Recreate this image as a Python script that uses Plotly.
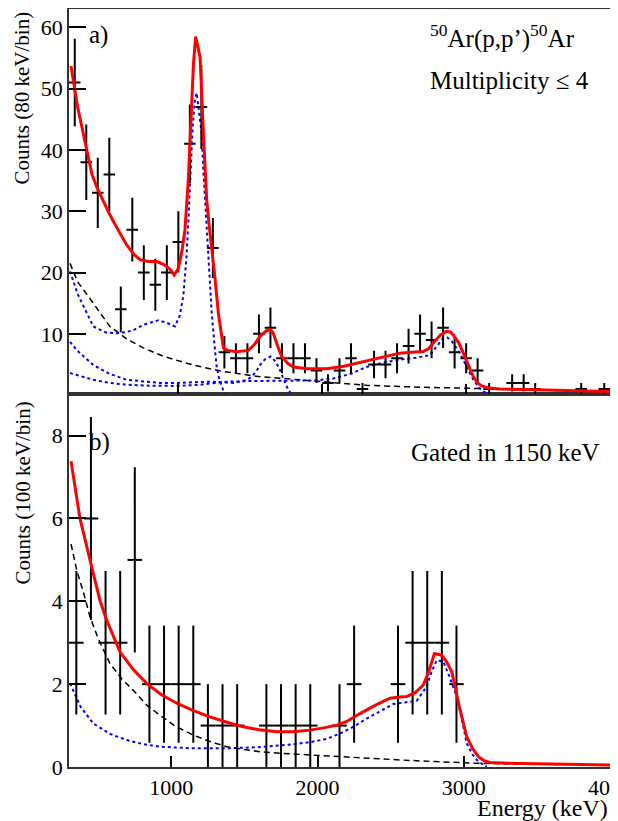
import numpy as np
import plotly.graph_objects as go

# ---------------- Panel a) data (80 keV/bin) ----------------
energy_a = [280, 360, 440, 520, 600, 680, 760, 840, 920, 1000, 1080, 1160, 1240, 1320,
            1400, 1480, 1560, 1640, 1720, 1800, 1880, 1960, 2040, 2120, 2200, 2280,
            2360, 2440, 2520, 2600, 2680, 2760, 2840, 2920, 3000, 3080, 3160, 3320,
            3400, 3480, 3800, 3960]
counts_a = [51, 38, 33, 36, 14, 27, 20, 18, 20, 25, 41, 47, 24, 7,
            6, 6, 10, 11, 6, 6, 6, 4, 2, 4, 6, 1,
            5, 5, 6, 8, 10, 9, 11, 7, 6, 4, 1, 2,
            2, 1, 1, 1]

fit_a_E = [254, 300, 358, 400, 432, 470, 522, 580, 641, 690, 733, 790, 849, 900, 940, 972,
           1000, 1025, 1046, 1069, 1087, 1105, 1120, 1140, 1151, 1174, 1197, 1215, 1232,
           1255, 1278, 1300, 1313, 1340, 1406, 1487, 1530, 1568, 1610, 1640, 1660, 1690,
           1718, 1760, 1799, 1900, 2031, 2150, 2264, 2378, 2460, 2540, 2620, 2702, 2740,
           2772, 2820, 2865, 2890, 2911, 2950, 2981, 3020, 3050, 3080, 3108, 3160, 3235,
           3400, 3600, 3800, 4000]
fit_a_v = [53.7, 47.0, 40.6, 36.0, 34.0, 32.0, 29.5, 27.0, 24.5, 23.0, 22.1, 21.8, 21.8, 21.3, 20.6, 19.6,
           20.7, 23.5, 27.0, 35.0, 46.0, 54.0, 58.5, 56.5, 55.2, 42.7, 31.9, 27.5, 24.2,
           19.0, 13.4, 9.5, 7.7, 7.3, 7.1, 7.3, 8.3, 9.6, 10.5, 10.7, 10.1, 8.0,
           6.3, 5.2, 4.6, 4.3, 4.3, 4.7, 5.3, 5.9, 6.4, 6.85, 7.0, 7.1, 7.6,
           8.5, 9.8, 10.4, 10.3, 9.8, 8.5, 6.85, 4.6, 3.0, 2.0, 1.5, 1.15, 1.0,
           0.9, 0.8, 0.7, 0.6]

bkg_a_E = [247, 300, 409, 524, 640, 756, 900, 1104, 1300, 1567, 1845, 2147, 2308, 2600,
           3003, 3300, 3600, 4000]
bkg_a_v = [21.5, 18.5, 15.0, 11.2, 9.2, 7.7, 6.3, 4.9, 3.9, 3.0, 2.5, 1.95, 1.6, 1.35,
           1.1, 0.95, 0.8, 0.55]

resp1150_E = [247, 300, 409, 500, 571, 640, 687, 760, 860, 920, 976, 1010, 1034, 1055, 1069,
              1081, 1100, 1115, 1127, 1140, 1162, 1173, 1185, 1197, 1215, 1232, 1250, 1266,
              1285, 1301, 1320, 1340]
resp1150_v = [20.2, 16.5, 11.2, 10.2, 10.1, 10.3, 10.6, 11.5, 12.2, 11.8, 11.2, 13.0, 16.1, 22.0, 28.0,
              35.0, 44.0, 48.0, 49.3, 47.0, 42.7, 37.0, 31.9, 27.0, 20.0, 13.4, 8.5, 4.7,
              2.5, 1.4, 0.3, 0.0]

resp1640_E = [247, 300, 409, 520, 641, 760, 871, 1000, 1100, 1220, 1300, 1382, 1450, 1498,
              1540, 1567, 1600, 1642, 1675, 1706, 1730, 1753, 1780]
resp1640_v = [8.7, 7.2, 4.9, 3.5, 2.5, 2.2, 2.0, 2.0, 2.1, 2.2, 2.1, 2.0, 2.3, 2.8,
              3.8, 4.9, 5.8, 6.3, 5.5, 4.1, 2.7, 1.4, 0.3]

resp2900_E = [247, 300, 409, 520, 641, 800, 988, 1150, 1336, 1500, 1729, 1845, 1950, 2077,
              2200, 2308, 2420, 2540, 2650, 2748, 2790, 2841, 2870, 2900, 2957, 3000, 3050,
              3090, 3120, 3150]
resp2900_v = [3.6, 3.2, 2.5, 2.0, 1.7, 1.55, 1.5, 1.7, 2.2, 2.3, 2.3, 2.3, 2.4, 2.7,
              3.5, 4.6, 5.3, 5.8, 6.1, 6.5, 7.8, 9.3, 9.4, 8.8, 6.85, 4.8, 2.5,
              1.2, 0.6, 0.2]

# ---------------- Panel b) data (100 keV/bin, gated) ----------------
energy_b = [350, 450, 550, 650, 750, 850, 950, 1050, 1150, 1250, 1350, 1450, 1650, 1750,
            1850, 1950, 2150, 2250, 2550, 2650, 2750, 2850, 2950]
counts_b = [3, 6, 3, 3, 5, 2, 2, 2, 2, 1, 1, 1, 1, 1,
            1, 1, 1, 2, 2, 3, 3, 3, 2]

fit_b_E = [314, 375, 455, 512, 558, 649, 740, 831, 930, 1037, 1150, 1264, 1380, 1492, 1600,
           1721, 1830, 1948, 2050, 2131, 2200, 2290, 2400, 2496, 2560, 2610, 2670, 2723,
           2760, 2799, 2849, 2880, 2918, 2970, 3020, 3060, 3100, 3140, 3180, 3300, 3500,
           3700, 3932, 4000]
fit_b_v = [7.38, 6.0, 4.83, 4.02, 3.54, 2.78, 2.35, 2.02, 1.75, 1.54, 1.36, 1.21, 1.08, 0.97, 0.9,
           0.85, 0.85, 0.89, 0.95, 1.01, 1.1, 1.29, 1.5, 1.66, 1.69, 1.7, 1.8, 1.98,
           2.3, 2.74, 2.7, 2.55, 2.3, 1.45, 0.73, 0.45, 0.25, 0.15, 0.11, 0.09, 0.08,
           0.07, 0.05, 0.05]

resp_b_E = [307, 380, 466, 580, 695, 810, 922, 1150, 1379, 1600, 1834, 1950, 2063, 2154,
            2250, 2336, 2430, 2518, 2600, 2678, 2746, 2780, 2815, 2860, 2900, 2952, 2990,
            3020, 3060, 3089, 3130, 3157]
resp_b_v = [2.02, 1.45, 1.05, 0.8, 0.65, 0.55, 0.49, 0.45, 0.45, 0.48, 0.55, 0.6, 0.68, 0.81,
            0.98, 1.17, 1.35, 1.52, 1.56, 1.6, 1.94, 2.3, 2.58, 2.54, 2.2, 1.69, 1.1,
            0.57, 0.3, 0.17, 0.06, 0.01]

bkg_b_E = [314, 353, 400, 444, 500, 580, 660, 740, 830, 922, 1030, 1150, 1260, 1379, 1500,
           1606, 1750, 1948, 2108, 2290, 2564, 2800, 3089, 3400, 3700, 4000]
bkg_b_v = [5.38, 4.75, 4.2, 3.62, 3.1, 2.5, 2.13, 1.85, 1.5, 1.25, 0.98, 0.77, 0.62, 0.49, 0.42,
           0.37, 0.33, 0.29, 0.25, 0.21, 0.17, 0.13, 0.09, 0.07, 0.06, 0.05]

x_ticks_b = [1000, 2000, 3000, 4000]
x_ticks_a = [1000, 2000, 3000]
y_ticks_a = [10, 20, 30, 40, 50, 60]
y_ticks_b = [0, 2, 4, 6, 8]

FONT = "Liberation Serif"
RED, BLUE, BLACK = "#ff0000", "#0000ff", "#000000"

fig = go.Figure()

def add_panel(xa, ya, E, N, halfbin, bkgE, bkgV, resps, fitE, fitV):
    fig.add_trace(go.Scatter(x=bkgE, y=bkgV, mode="lines", xaxis=xa, yaxis=ya,
                             line=dict(color=BLACK, width=1.5, dash="6px,4px"), showlegend=False))
    for rE, rV in resps:
        fig.add_trace(go.Scatter(x=rE, y=rV, mode="lines", xaxis=xa, yaxis=ya,
                                 line=dict(color=BLUE, width=2, dash="3px,3px"), showlegend=False))
    fig.add_trace(go.Scatter(
        x=E, y=N, mode="markers", xaxis=xa, yaxis=ya,
        marker=dict(size=2, color="rgba(0,0,0,0)"),
        error_x=dict(type="constant", value=halfbin, color=BLACK, thickness=2, width=0),
        error_y=dict(type="data", array=np.sqrt(np.array(N, dtype=float)), color=BLACK,
                     thickness=2, width=0),
        showlegend=False))
    fig.add_trace(go.Scatter(x=fitE, y=fitV, mode="lines", xaxis=xa, yaxis=ya,
                             line=dict(color=RED, width=3), showlegend=False))

add_panel("x2", "y2", energy_a, counts_a, 40, bkg_a_E, bkg_a_v,
          [(resp1150_E, resp1150_v), (resp1640_E, resp1640_v), (resp2900_E, resp2900_v)],
          fit_a_E, fit_a_v)
add_panel("x", "y", energy_b, counts_b, 50, bkg_b_E, bkg_b_v,
          [(resp_b_E, resp_b_v)], fit_b_E, fit_b_v)

split = 0.4918
axis_common = dict(showline=True, linecolor="#333333", linewidth=1.5, mirror=True,
                   ticks="inside", tickcolor=BLACK, tickwidth=1.5, showgrid=False,
                   zeroline=False, tickfont=dict(family=FONT, size=22, color=BLACK))

# page has an 8px body margin: figure origin sits at page (8, 8)
fig.update_layout(
    width=610, height=813,
    margin=dict(l=61, r=8, t=1, b=54, autoexpand=False),
    paper_bgcolor="white", plot_bgcolor="white",
    showlegend=False,
    xaxis=dict(axis_common, range=[300, 4000], tickvals=x_ticks_b,
               ticklen=11, anchor="y", domain=[0, 1], ticklabelstandoff=0,
               ticklabeloverflow="allow"),
    yaxis=dict(axis_common, range=[0, 9], tickvals=y_ticks_b, ticklen=17,
               anchor="x", domain=[0, split]),
    xaxis2=dict(axis_common, range=[240, 4000], tickvals=x_ticks_a,
                ticklen=10, showticklabels=False, anchor="y2", domain=[0, 1]),
    yaxis2=dict(axis_common, range=[0.15, 63], tickvals=y_ticks_a,
                ticklen=17, anchor="x2", domain=[split, 1]),
)

ann_font = dict(family=FONT, size=25, color=BLACK)
annotations = [
    dict(text="a)", x=87, y=35, xanchor="left", yanchor="middle"),
    dict(text="b)", x=87, y=442, xanchor="left", yanchor="middle"),
    dict(text="<sup>50</sup>Ar(p,p’)<sup>50</sup>Ar", x=428, y=37, xanchor="left", yanchor="middle"),
    dict(text="Multiplicity ≤ 4", x=428, y=80, xanchor="left", yanchor="middle"),
    dict(text="Gated in 1150 keV", x=602, y=452, xanchor="right", yanchor="middle"),
]
# plot area in page pixels
L, R, T, B = 69, 610, 9, 767
def px2paper(px, py):
    return (px - L) / (R - L), (B - py) / (B - T)

for a in annotations:
    xp, yp = px2paper(a.pop("x"), a.pop("y"))
    fig.add_annotation(xref="paper", yref="paper", x=xp, y=yp, showarrow=False,
                       font=ann_font, **a)

# axis titles (ROOT style: right/top aligned)
xp, yp = px2paper(22, 10)
fig.add_annotation(xref="paper", yref="paper", x=xp, y=yp, text="Counts (80 keV/bin)",
                   textangle=-90, showarrow=False, xanchor="center", yanchor="top",
                   font=dict(family=FONT, size=21, color=BLACK))
xp, yp = px2paper(22, 400)
fig.add_annotation(xref="paper", yref="paper", x=xp, y=yp, text="Counts (100 keV/bin)",
                   textangle=-90, showarrow=False, xanchor="center", yanchor="top",
                   font=dict(family=FONT, size=21, color=BLACK))
xp, yp = px2paper(610, 808)
fig.add_annotation(xref="paper", yref="paper", x=xp, y=yp, text="Energy (keV)",
                   showarrow=False, xanchor="right", yanchor="middle",
                   font=dict(family=FONT, size=24, color=BLACK))

fig.write_html("out.html")
